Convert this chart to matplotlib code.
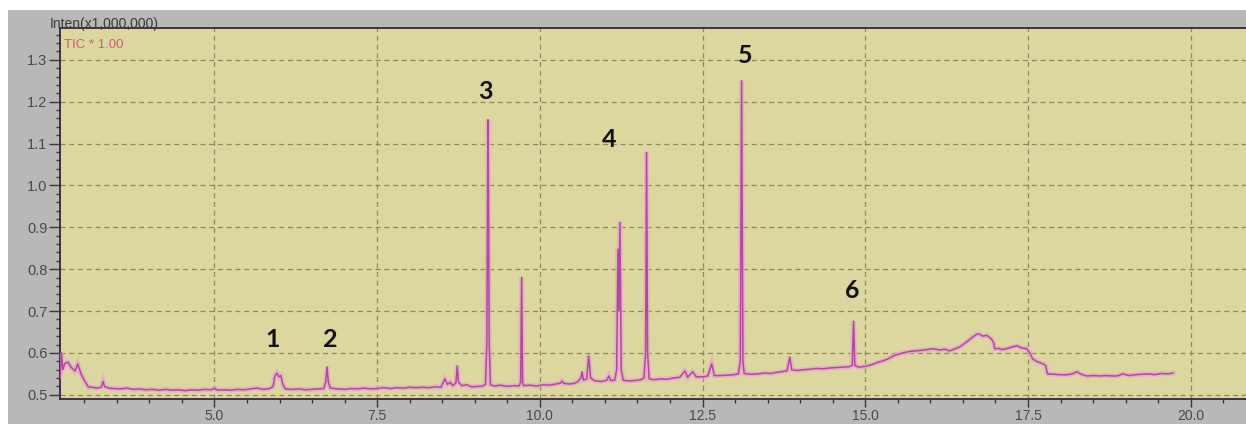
import matplotlib
matplotlib.use('Agg')
import matplotlib.pyplot as plt
from matplotlib.patches import Rectangle
from matplotlib.ticker import MultipleLocator, FormatStrFormatter

# chromatogram trace (retention time in min, intensity x1,000,000)
time = [
    2.63, 2.65, 2.67, 2.70, 2.75, 2.80, 2.86, 2.90, 2.95, 3.00, 3.06, 3.12, 3.20, 3.26, 3.29, 3.31, 3.38,
    3.45, 3.55, 3.65, 3.75, 3.85, 3.95, 4.05, 4.15, 4.25, 4.35, 4.45, 4.55, 4.65, 4.75, 4.85, 4.95,
    5.00, 5.05, 5.15, 5.25, 5.35, 5.45, 5.55, 5.65, 5.75, 5.85,
    5.90, 5.93, 5.96, 5.99, 6.02, 6.05, 6.09,
    6.20, 6.30, 6.40, 6.50, 6.60, 6.68, 6.71, 6.73, 6.75, 6.78,
    6.90, 7.00, 7.10, 7.20, 7.30, 7.40, 7.50, 7.60, 7.70, 7.80, 7.90, 8.00, 8.10, 8.20, 8.30, 8.40, 8.48,
    8.54, 8.58, 8.62, 8.66, 8.71, 8.73, 8.75, 8.80, 8.88, 8.95, 9.05, 9.12,
    9.165, 9.185, 9.198, 9.203, 9.208, 9.222, 9.24,
    9.30, 9.40, 9.50, 9.60, 9.68, 9.705, 9.72, 9.735, 9.75,
    9.85, 9.95, 10.05, 10.15, 10.25, 10.32, 10.34, 10.37, 10.45, 10.52, 10.58, 10.63, 10.65, 10.67,
    10.72, 10.75, 10.78, 10.85, 10.95, 11.03, 11.06, 11.09, 11.15,
    11.18, 11.20, 11.215, 11.23, 11.25, 11.28, 11.35, 11.45, 11.55, 11.60,
    11.625, 11.64, 11.655, 11.68, 11.75, 11.85, 11.95, 12.05, 12.15, 12.23, 12.27, 12.35, 12.40,
    12.50, 12.58, 12.64, 12.68, 12.78, 12.88, 12.98, 13.05,
    13.08, 13.095, 13.10, 13.105, 13.12, 13.14,
    13.25, 13.35, 13.45, 13.55, 13.65, 13.75, 13.80, 13.84, 13.87, 13.95, 14.05, 14.15, 14.25, 14.35,
    14.45, 14.55, 14.65, 14.75, 14.80, 14.82, 14.84, 14.90,
    15.00, 15.10, 15.20, 15.27, 15.35, 15.45, 15.53, 15.60, 15.70, 15.79, 15.90, 16.04, 16.15, 16.22,
    16.30, 16.38, 16.45, 16.52, 16.61, 16.67, 16.72, 16.76, 16.80, 16.87, 16.94, 16.97, 16.99,
    17.05, 17.10, 17.17, 17.25, 17.33, 17.40, 17.48, 17.53, 17.57, 17.63, 17.68, 17.73, 17.77, 17.80,
    17.90, 18.00, 18.10, 18.18, 18.25, 18.32, 18.40, 18.50, 18.60, 18.70, 18.80, 18.87, 18.96,
    19.05, 19.15, 19.25, 19.37, 19.45, 19.55, 19.65, 19.73,
]
intensity = [
    0.545, 0.600, 0.560, 0.575, 0.578, 0.565, 0.557, 0.574, 0.550, 0.535, 0.519, 0.518, 0.516, 0.518, 0.532, 0.520, 0.516,
    0.515, 0.514, 0.516, 0.513, 0.514, 0.512, 0.513, 0.511, 0.513, 0.511, 0.512, 0.510, 0.512, 0.511, 0.513, 0.512,
    0.516, 0.511, 0.512, 0.511, 0.513, 0.512, 0.514, 0.516, 0.513, 0.515,
    0.520, 0.545, 0.552, 0.543, 0.546, 0.525, 0.514,
    0.513, 0.514, 0.512, 0.513, 0.514, 0.515, 0.530, 0.567, 0.530, 0.516,
    0.514, 0.513, 0.515, 0.514, 0.516, 0.514, 0.515, 0.517, 0.515, 0.517, 0.516, 0.518, 0.517, 0.518, 0.517, 0.519, 0.518,
    0.538, 0.525, 0.530, 0.522, 0.528, 0.569, 0.530, 0.522, 0.524, 0.519, 0.520, 0.521,
    0.525, 0.620, 1.045, 1.157, 1.045, 0.620, 0.524,
    0.521, 0.523, 0.520, 0.522, 0.521, 0.530, 0.781, 0.530, 0.522,
    0.523, 0.521, 0.524, 0.523, 0.526, 0.528, 0.533, 0.527, 0.526, 0.527, 0.531, 0.540, 0.555, 0.535,
    0.538, 0.593, 0.540, 0.533, 0.532, 0.535, 0.545, 0.534, 0.535,
    0.560, 0.848, 0.700, 0.912, 0.560, 0.535, 0.533, 0.534, 0.536, 0.540,
    0.600, 1.079, 0.600, 0.538, 0.536, 0.538, 0.537, 0.540, 0.542, 0.557, 0.542, 0.555, 0.543,
    0.543, 0.545, 0.574, 0.546, 0.546, 0.547, 0.548, 0.550,
    0.580, 1.069, 1.250, 1.069, 0.580, 0.551,
    0.549, 0.550, 0.552, 0.551, 0.554, 0.556, 0.558, 0.590, 0.560, 0.558, 0.560, 0.561, 0.563, 0.562,
    0.564, 0.565, 0.566, 0.567, 0.570, 0.676, 0.570, 0.566,
    0.568, 0.572, 0.578, 0.581, 0.586, 0.594, 0.598, 0.601, 0.604, 0.605, 0.607, 0.610, 0.607, 0.609,
    0.605, 0.610, 0.614, 0.622, 0.633, 0.640, 0.645, 0.645, 0.640, 0.642, 0.633, 0.625, 0.610,
    0.611, 0.608, 0.610, 0.614, 0.617, 0.612, 0.610, 0.600, 0.586, 0.580, 0.577, 0.574, 0.570, 0.550,
    0.549, 0.548, 0.548, 0.550, 0.555, 0.549, 0.545, 0.546, 0.545, 0.546, 0.545, 0.545, 0.550,
    0.546, 0.548, 0.549, 0.550, 0.548, 0.551, 0.550, 0.552,
]

# peak numbers and where they sit
peak_labels = ['1', '2', '3', '4', '5', '6']
peak_x = [5.90, 6.78, 9.17, 11.07, 13.16, 14.80]
peak_y = [0.631, 0.631, 1.224, 1.110, 1.310, 0.750]

x_ticks = [5.0, 7.5, 10.0, 12.5, 15.0, 17.5, 20.0]
y_ticks = [0.5, 0.6, 0.7, 0.8, 0.9, 1.0, 1.1, 1.2, 1.3]

W, H = 1246, 424
fig = plt.figure(figsize=(W / 100, H / 100), dpi=100, facecolor='white')
# grey instrument frame behind the plot
fig.add_artist(Rectangle((8 / W, 0), 1 - 8 / W, 414 / H, transform=fig.transFigure,
                         facecolor='#b6b9b6', edgecolor='none', zorder=-10))

ax = fig.add_axes([60 / W, 25 / H, (W - 60) / W, 371 / H])
ax.set_facecolor('#dcd79e')

ax.plot(time, intensity, color='#e6a2d2', lw=3.5, alpha=0.7, solid_joinstyle='miter', zorder=3)
ax.plot(time, intensity, color='#b4489e', lw=1.1, zorder=4)

ax.set_xlim(2.627, 20.85)
ax.set_ylim(0.49, 1.376)

ax.set_xticks(x_ticks)
ax.set_yticks(y_ticks)
ax.xaxis.set_minor_locator(MultipleLocator(0.5))
ax.yaxis.set_minor_locator(MultipleLocator(0.02))
ax.xaxis.set_major_formatter(FormatStrFormatter('%.1f'))
ax.yaxis.set_major_formatter(FormatStrFormatter('%.1f'))

ax.grid(True, which='major', color='#8c8862', lw=0.9, ls=(0, (4, 3)))
ax.set_axisbelow(True)

for side in ['left', 'bottom', 'top']:
    ax.spines[side].set_color('#45303f')
    ax.spines[side].set_linewidth(1.4)
ax.spines['right'].set_visible(False)

ax.tick_params(axis='x', which='major', length=6, width=1, color='#45303f', pad=1,
               labelsize=10, labelcolor='#4a4a4a')
ax.tick_params(axis='x', which='minor', length=3, width=1, color='#45303f')
ax.tick_params(axis='y', which='major', length=8, width=1, color='#45303f', pad=1,
               labelsize=10.5, labelcolor='#4a4a4a')
ax.tick_params(axis='y', which='minor', length=3, width=1, color='#45303f')
for lab in ax.get_xticklabels() + ax.get_yticklabels():
    lab.set_family('Liberation Sans')

fig.text(50 / W, 1 - 24 / H, 'Inten(x1,000,000)', ha='left', va='center',
         fontsize=10, color='#3a3a3a', family='Liberation Sans')
ax.text(0.003, 0.955, 'TIC * 1.00', transform=ax.transAxes, ha='left', va='center',
        fontsize=9.5, color='#d2587e', family='Liberation Sans')

for lab, px, py in zip(peak_labels, peak_x, peak_y):
    ax.text(px, py, lab, ha='center', va='center', fontsize=18, fontweight='bold',
            family='Lato', color='#111111', zorder=6)

fig.savefig('out.png', dpi=100)
